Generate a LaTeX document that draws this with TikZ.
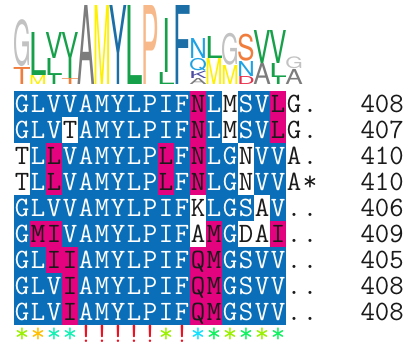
\documentclass[tikz,border=0pt]{standalone}
\usepackage{fontspec}
\setsansfont{TeX Gyre Heros}
\usepackage{graphicx}
\definecolor{bluebg}{HTML}{0A6FB8}
\definecolor{magbg}{HTML}{E4037E}
\definecolor{ink}{HTML}{1A1A1A}
\definecolor{lgGray}{HTML}{C2C2C2}
\definecolor{lgDGray}{HTML}{7C7C7C}
\definecolor{lgGreen}{HTML}{17A04A}
\definecolor{lgYellow}{HTML}{FFF000}
\definecolor{lgBlue}{HTML}{1B6FA6}
\definecolor{lgPeach}{HTML}{F8B98A}
\definecolor{lgOrange}{HTML}{F07D3C}
\definecolor{lgLBlue}{HTML}{1FA2E4}
\definecolor{lgPurple}{HTML}{4D4DA2}
\definecolor{lgRed}{HTML}{E8304A}
\definecolor{cYG}{HTML}{99F000}
\definecolor{cOr}{HTML}{FFBE00}
\definecolor{cAq}{HTML}{14F0B4}
\definecolor{cRd}{HTML}{F01020}
\definecolor{cCy}{HTML}{10E0FF}
\definecolor{cGr}{HTML}{10F060}
\newcount\colidx
\newcount\rowidx
\def\placecell#1#2{%
  \pgfmathsetmacro\cx{22+16*\the\colidx}%
  \pgfmathsetmacro\cy{104+26*\the\rowidx}%
  \if#2m\fill[magbg] (\cx-8,\cy-13) rectangle (\cx+8,\cy+13);\def\tc{ink}\else
  \if#2w\fill[white] (\cx-8,\cy-13) rectangle (\cx+8,\cy+13);\def\tc{ink}\else\def\tc{white}\fi\fi
  \node[res,text=\tc,name=r\the\rowidx c\the\colidx] at (\cx,\cy+8) {#1};}
\def\docell#1#2{\ifx#1\relax\else\placecell{#1}{#2}\advance\colidx by 1\relax\expandafter\docell\fi}
\def\cellrow#1#2{\rowidx=#1\relax\colidx=0\relax\docell#2\relax\relax}
% logo letter: width, column, top, bottom, colour, letter
\newcommand\lgl[6]{%
  \pgfmathsetmacro\lgh{#4-#3}%
  \node[name=lg-#2-#6,anchor=south,inner sep=0pt,outer sep=0pt,text=#5] at ({22+16*#2},#4)
    {\resizebox*{#1pt}{\lgh pt}{\sffamily #6}};}
\begin{document}
\begin{tikzpicture}[x=1pt,y=-1pt,
  res/.style={inner sep=0pt,anchor=base,font=\fontsize{28}{28}\selectfont\ttfamily},
  cons/.style={inner sep=0pt,anchor=base,font=\fontsize{28}{28}\selectfont\ttfamily}]
\useasboundingbox (0,0) rectangle (406,348);
% sequence logo
\lgl{17.5}{0}{20}{67}{lgGray}{G}
\lgl{17.5}{0}{67}{84}{lgOrange}{T}
\lgl{17.5}{1}{32}{75}{lgGreen}{L}
\lgl{17.5}{1}{75}{84}{lgYellow}{M}
\lgl{17.5}{2}{32}{58}{lgGreen}{V}
\lgl{17.5}{2}{58}{75}{lgGreen}{L}
\lgl{8}{2}{75}{84}{lgGreen}{I}
\lgl{17.5}{3}{32}{58}{lgGreen}{V}
\lgl{8}{3}{58}{78}{lgGreen}{I}
\lgl{17.5}{3}{78}{84}{lgOrange}{T}
\lgl{17.5}{4}{5}{84}{lgDGray}{A}
\lgl{17.5}{5}{5}{84}{lgYellow}{M}
\lgl{17.5}{6}{5}{84}{lgBlue}{Y}
\lgl{17.5}{7}{5}{84}{lgGreen}{L}
\lgl{17.5}{8}{5}{84}{lgPeach}{P}
\lgl{8}{9}{18}{72}{lgGreen}{I}
\lgl{17.5}{9}{72}{84}{lgGreen}{L}
\lgl{17.5}{10}{5}{84}{lgBlue}{F}
\lgl{17.5}{11}{38}{58}{lgLBlue}{N}
\lgl{17.5}{11}{58}{71}{lgLBlue}{Q}
\lgl{17.5}{11}{71}{78}{lgPurple}{K}
\lgl{17.5}{11}{78}{84}{lgDGray}{A}
\lgl{17.5}{12}{36}{58}{lgGreen}{L}
\lgl{17.5}{12}{58}{84}{lgYellow}{M}
\lgl{17.5}{13}{33}{65}{lgGray}{G}
\lgl{17.5}{13}{65}{84}{lgYellow}{M}
\lgl{17.5}{14}{34}{61}{lgOrange}{S}
\lgl{17.5}{14}{61}{76}{lgLBlue}{N}
\lgl{17.5}{14}{76}{84}{lgRed}{D}
\lgl{17.5}{15}{30}{63}{lgGreen}{V}
\lgl{17.5}{15}{63}{84}{lgDGray}{A}
\lgl{17.5}{16}{30}{63}{lgGreen}{V}
\lgl{17.5}{16}{63}{77}{lgGreen}{L}
\lgl{8}{16}{77}{84}{lgGreen}{I}
\lgl{17.5}{17}{57}{69}{lgGray}{G}
\lgl{17.5}{17}{69}{84}{lgDGray}{A}
% alignment block
\fill[bluebg] (14,91) rectangle (286,325);
\cellrow{0}{GbLbVbVbAbMbYbLbPbIbFbNmLbMwSbVbLm}
\cellrow{1}{GbLbVbTwAbMbYbLbPbIbFbNmLbMwSbVbLm}
\cellrow{2}{TwLbLmVbAbMbYbLbPbLmFbNmLbGbNwVbVb}
\cellrow{3}{TwLbLmVbAbMbYbLbPbLmFbNmLbGbNwVbVb}
\cellrow{4}{GbLbVbVbAbMbYbLbPbIbFbKwLbGbSbAwVb}
\cellrow{5}{GbMmImVbAbMbYbLbPbIbFbAwMmGbDwAwIm}
\cellrow{6}{GbLbImImAbMbYbLbPbIbFbQmMmGbSbVbVb}
\cellrow{7}{GbLbVbImAbMbYbLbPbIbFbQmMmGbSbVbVb}
\cellrow{8}{GbLbVbImAbMbYbLbPbIbFbQmMmGbSbVbVb}
% trailing characters and lengths
\foreach \r/\a/\b/\n in {0/G/./408,1/G/./407,2/A/./410,3/A/*/410,4/././406,
  5/././409,6/././405,7/././408,8/././408}{
  \node[res,text=ink,name=ta\r] at (294,{112+26*\r}) {\a};
  \node[res,text=ink,name=tb\r] at (310,{112+26*\r}) {\b};
  \node[res,text=ink,anchor=base east,name=len\r] at (404,{112+26*\r}) {\n};
}
% conservation line
\foreach \i/\s/\c in {0/*/cYG,1/*/cOr,2/*/cAq,3/*/cAq,4/!/cRd,5/!/cRd,6/!/cRd,
  7/!/cRd,8/!/cRd,9/*/cYG,10/!/cRd,11/*/cCy,12/*/cGr,13/*/cYG,14/*/cGr,15/*/cYG,16/*/cGr}{
  \node[cons,text=\c,name=cons\i] at ({22+16*\i},342) {\s};
}
\end{tikzpicture}
\end{document}
